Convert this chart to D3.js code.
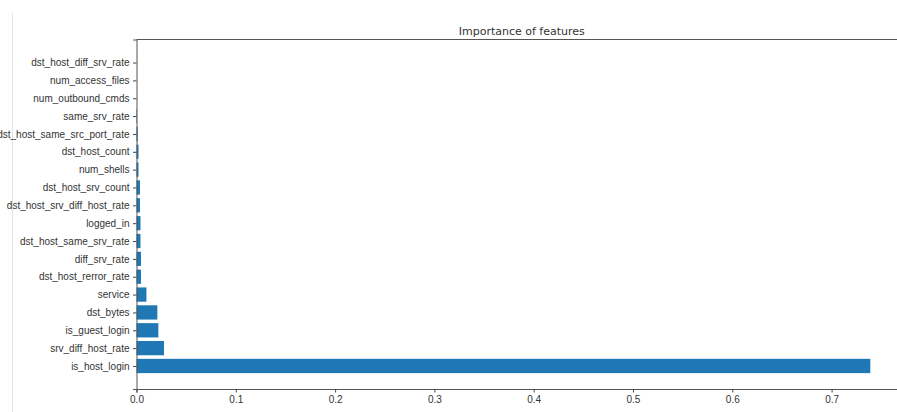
<!DOCTYPE html>
<html>
<head>
<meta charset="utf-8">
<script src="https://cdn.jsdelivr.net/npm/d3@7"></script>
<style>
  body { margin: 0; background: #fff; }
  svg { display: block; font-family: "DejaVu Sans", sans-serif; }
  .tick text { fill: #333; font-size: 10px; }
  .tick line { stroke: #444; }
  .domain { stroke: #555; }
</style>
</head>
<body>
<svg></svg>
<script>
// features, top to bottom
let features = [
  "dst_host_diff_srv_rate", "num_access_files", "num_outbound_cmds", "same_srv_rate",
  "dst_host_same_src_port_rate", "dst_host_count", "num_shells", "dst_host_srv_count",
  "dst_host_srv_diff_host_rate", "logged_in", "dst_host_same_srv_rate", "diff_srv_rate",
  "dst_host_rerror_rate", "service", "dst_bytes", "is_guest_login",
  "srv_diff_host_rate", "is_host_login"
]
let importance = [
  0, 0, 0, 0.0005,
  0.0012, 0.002, 0.002, 0.0035,
  0.0035, 0.004, 0.004, 0.0045,
  0.0045, 0.010, 0.021, 0.022,
  0.0277, 0.739
]
let xTicks = [0, 0.1, 0.2, 0.3, 0.4, 0.5, 0.6, 0.7]

let width = 897
let height = 412
let plotLeft = 136.5
let plotRight = 907   // axes runs past the window edge
let plotTop = 39.5
let plotBottom = 389

let svg = d3.select("svg").attr("width", width).attr("height", height)

// faint frame line on the left
svg.append("line")
  .attr("x1", 12.5).attr("x2", 12.5).attr("y1", 13).attr("y2", height)
  .attr("stroke", "#e4e4e4").attr("stroke-width", 1)

let xScale = d3.scaleLinear()
  .domain([0, 0.739 * 1.05])
  .range([plotLeft, plotRight])

// matplotlib style: integer positions with 0.05 margins around bars
let n = features.length
let pad = (n - 1 + 0.8) * 0.05
let yScale = d3.scaleLinear()
  .domain([n - 1 + 0.4 + pad, -0.4 - pad])
  .range([plotBottom, plotTop])

let data = features.map((f, i) => ({ name: f, value: importance[i], pos: i }))

svg.selectAll("rect.bar")
  .data(data)
  .enter()
  .append("rect")
  .attr("class", "bar")
  .attr("x", xScale(0))
  .attr("y", d => yScale(d.pos - 0.4))
  .attr("width", d => xScale(d.value) - xScale(0))
  .attr("height", d => yScale(d.pos + 0.4) - yScale(d.pos - 0.4))
  .attr("fill", "#1f77b4")

let xAxis = d3.axisBottom(xScale)
  .tickValues(xTicks)
  .tickFormat(d3.format(".1f"))
  .tickSizeOuter(0)
  .tickSize(3.5)
  .tickPadding(3.5)

svg.append("g")
  .attr("transform", "translate(0," + plotBottom + ")")
  .call(xAxis)

let yAxis = d3.axisLeft(yScale)
  .tickValues(d3.range(n))
  .tickFormat(i => features[i])
  .tickSizeOuter(0)
  .tickSize(3.5)
  .tickPadding(3.5)

svg.append("g")
  .attr("transform", "translate(" + plotLeft + ",0)")
  .call(yAxis)

// top spine
svg.append("line")
  .attr("x1", plotLeft).attr("x2", plotRight).attr("y1", plotTop).attr("y2", plotTop)
  .attr("stroke", "#555")

svg.append("text")
  .attr("x", (plotLeft + plotRight) / 2)
  .attr("y", 35)
  .attr("text-anchor", "middle")
  .style("font-size", "11px")
  .attr("fill", "#333")
  .text("Importance of features")
</script>
</body>
</html>
